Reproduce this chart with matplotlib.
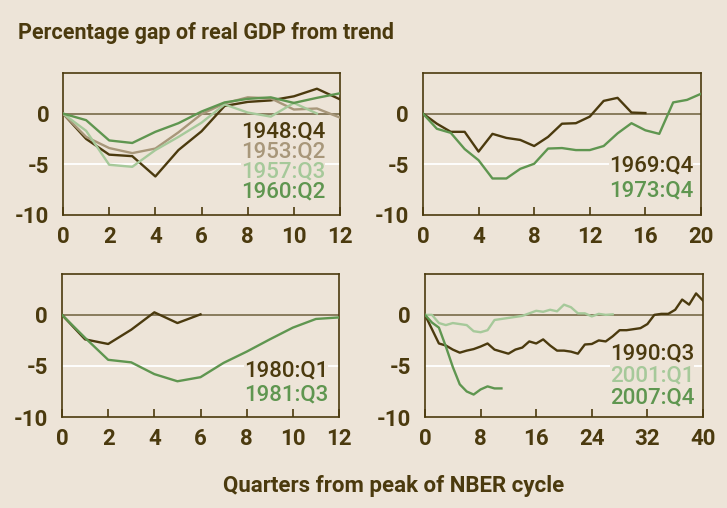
import matplotlib
matplotlib.use("Agg")
import matplotlib.pyplot as plt

# ---- data (percent gap of real GDP from trend, by quarter from NBER peak) ----
gap_1948q4 = [0, -2.5, -4.05, -4.2, -6.2, -3.6, -1.75, 0.75, 1.15, 1.3, 1.7, 2.45, 1.4]
gap_1953q2 = [0, -2.3, -3.4, -3.9, -3.45, -1.85, -0.05, 1.0, 1.6, 1.5, 0.4, 0.5, -0.4]
gap_1957q3 = [0, -1.7, -5.05, -5.25, -3.6, -2.3, -0.9, 0.9, 0.1, -0.3, 1.05, 0.0]
gap_1960q2 = [0, -0.65, -2.65, -2.9, -1.8, -0.95, 0.2, 1.1, 1.45, 1.6, 1.05, 1.55, 2.0]

gap_1969q4 = [0, -1.0, -1.8, -1.8, -3.75, -2.0, -2.4, -2.6, -3.2, -2.3, -1.0,
              -0.95, -0.3, 1.25, 1.55, 0.1, 0.05]
gap_1973q4 = [0, -1.5, -1.9, -3.5, -4.6, -6.4, -6.4, -5.45, -4.95, -3.45, -3.4,
              -3.6, -3.6, -3.2, -1.95, -0.95, -1.65, -2.0, 1.1, 1.35, 1.95]

gap_1980q1 = [0, -2.4, -2.85, -1.45, 0.25, -0.8, 0.05]
gap_1981q3 = [0, -2.25, -4.4, -4.65, -5.8, -6.5, -6.1, -4.7, -3.6, -2.4, -1.25, -0.4, -0.25]

gap_1990q3 = [0, -1.4, -2.8, -3.0, -3.4, -3.7, -3.5, -3.35, -3.1, -2.8, -3.4, -3.6,
              -3.8, -3.4, -3.2, -2.6, -2.8, -2.4, -3.0, -3.5, -3.5, -3.6, -3.8,
              -2.9, -2.85, -2.5, -2.6, -2.1, -1.5, -1.5, -1.4, -1.3, -0.9, 0.0,
              0.1, 0.1, 0.5, 1.5, 1.0, 2.1, 1.4]
gap_2001q1 = [0, 0.0, -0.8, -1.0, -0.8, -0.9, -1.0, -1.6, -1.7, -1.5, -0.5, -0.4,
              -0.3, -0.2, -0.1, 0.15, 0.4, 0.3, 0.5, 0.35, 1.0, 0.75, 0.15, 0.15,
              -0.15, 0.1, 0.0, 0.05]
gap_2007q4 = [0, -0.75, -1.25, -3.1, -5.1, -6.8, -7.5, -7.8, -7.3, -7.0, -7.2, -7.2]

BG = "#ede4d8"
DARK = "#4b3a0e"
TAN = "#a8977a"
LIGHT_GREEN = "#a6c99a"
GREEN = "#5f9650"
ZERO = "#6e5f3c"

plt.rcParams["font.family"] = ["Roboto", "DejaVu Sans"]

fig = plt.figure(figsize=(7.27, 5.08), dpi=100, facecolor=BG)

panels = [
    # rect, xmax, xticks, series, label x (axes fraction)
    ([0.0867, 0.5768, 0.381, 0.2795], 12, [0, 2, 4, 6, 8, 10, 12],
     [(gap_1948q4, DARK, "1948:Q4", 0.588),
      (gap_1953q2, TAN, "1953:Q2", 0.445),
      (gap_1957q3, LIGHT_GREEN, "1957:Q3", 0.302),
      (gap_1960q2, GREEN, "1960:Q2", 0.159)], 0.946),
    ([0.5818, 0.5768, 0.3824, 0.2795], 20, [0, 4, 8, 12, 16, 20],
     [(gap_1969q4, DARK, "1969:Q4", 0.345),
      (gap_1973q4, GREEN, "1973:Q4", 0.169)], 0.971),
    ([0.0853, 0.1791, 0.381, 0.2815], 12, [0, 2, 4, 6, 8, 10, 12],
     [(gap_1980q1, DARK, "1980:Q1", 0.322),
      (gap_1981q3, GREEN, "1981:Q3", 0.154)], 0.96),
    ([0.5846, 0.1791, 0.3824, 0.2815], 40, [0, 8, 16, 24, 32, 40],
     [(gap_1990q3, DARK, "1990:Q3", 0.44),
      (gap_2001q1, LIGHT_GREEN, "2001:Q1", 0.287),
      (gap_2007q4, GREEN, "2007:Q4", 0.133)], 0.968),
]

for rect, xmax, xticks, series, lab_x in panels:
    ax = fig.add_axes(rect)
    ax.set_facecolor(BG)
    ax.set_xlim(0, xmax)
    ax.set_ylim(-10, 4)
    ax.axhline(-5, color="white", lw=1.3, zorder=1)
    ax.axhline(0, color=ZERO, lw=1.1, zorder=2)
    for vals, color, label, ly in series:
        ax.plot(range(len(vals)), vals, color=color, lw=1.7, zorder=3)
        ax.text(lab_x, ly, label, transform=ax.transAxes, ha="right", va="center",
                fontsize=16, fontweight="medium", color=color, zorder=4,
                bbox=dict(facecolor=BG, edgecolor="none", pad=0))
    ax.set_xticks(xticks)
    ax.set_yticks([0, -5, -10])
    ax.set_yticklabels(["0", "-5", "-10"])
    ax.tick_params(axis="x", direction="in", length=6, width=1.2, color=DARK,
                   pad=8, labelsize=16, labelcolor=DARK)
    ax.tick_params(axis="y", length=0, pad=10, labelsize=16, labelcolor=DARK)
    for lbl in ax.get_xticklabels() + ax.get_yticklabels():
        lbl.set_fontweight("bold")
    for sp in ax.spines.values():
        sp.set_color(DARK)
        sp.set_linewidth(1.2)

fig.text(0.025, 0.935, "Percentage gap of real GDP from trend", fontsize=15.5,
         fontweight="bold", color=DARK, ha="left", va="center")
fig.text(0.541, 0.043, "Quarters from peak of NBER cycle", fontsize=16,
         fontweight="bold", color=DARK, ha="center", va="center")

fig.savefig("out.png", dpi=100, facecolor=BG)
